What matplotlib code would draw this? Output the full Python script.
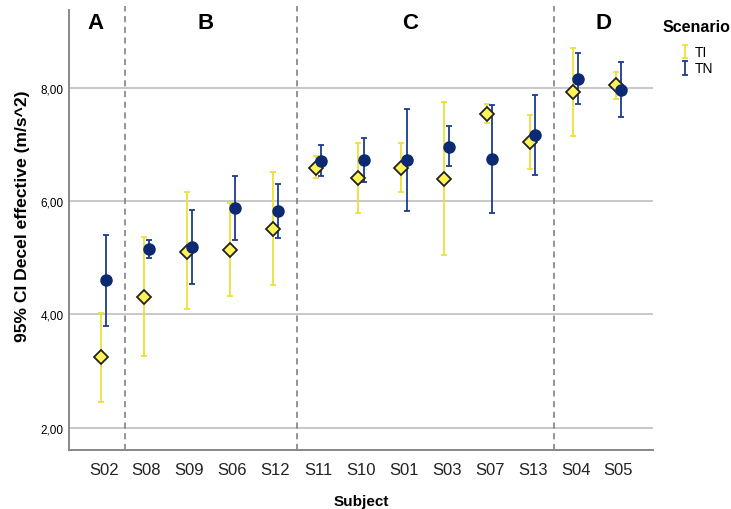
import matplotlib
matplotlib.use("Agg")
import matplotlib.pyplot as plt
import numpy as np

plt.rcParams["font.family"] = ["Liberation Sans", "DejaVu Sans"]

subjects = ["S02", "S08", "S09", "S06", "S12", "S11", "S10", "S01", "S03", "S07", "S13", "S04", "S05"]

# TI scenario: mean and 95% CI bounds
ti_mean = [3.24, 4.31, 5.10, 5.14, 5.51, 6.59, 6.40, 6.59, 6.39, 7.54, 7.05, 7.92, 8.04]
ti_low = [2.46, 3.27, 4.09, 4.33, 4.52, 6.40, 5.78, 6.16, 5.05, 7.38, 6.57, 7.14, 7.80]
ti_high = [4.02, 5.36, 6.16, 5.97, 6.51, 6.80, 7.02, 7.02, 7.74, 7.71, 7.52, 8.70, 8.28]

# TN scenario
tn_mean = [4.60, 5.15, 5.18, 5.88, 5.82, 6.71, 6.72, 6.72, 6.96, 6.74, 7.16, 8.16, 7.96]
tn_low = [3.79, 5.00, 4.54, 5.32, 5.34, 6.44, 6.34, 5.82, 6.61, 5.79, 6.46, 7.71, 7.49]
tn_high = [5.40, 5.32, 5.84, 6.44, 6.30, 6.98, 7.11, 7.62, 7.32, 7.69, 7.88, 8.62, 8.45]

# groups: last index of each group, then label and its x position
group_ends = [0, 4, 10]
group_labels = ["A", "B", "C", "D"]
group_label_x = [-0.2, 2.38, 7.14, 11.64]

yticks = [2, 4, 6, 8]

ti_bar = "#EDE03A"
ti_face = "#FFF35A"
tn_bar = "#1E3C8F"
tn_dot = "#0B2A72"

fig = plt.figure(figsize=(7.31, 5.10), dpi=100)
ax = fig.add_axes([0.0948, 0.1163, 0.7982, 0.8697])

x = np.arange(len(subjects))
dodge = 0.06

ti_m = np.array(ti_mean)
tn_m = np.array(tn_mean)
ti_err = [ti_m - np.array(ti_low), np.array(ti_high) - ti_m]
tn_err = [tn_m - np.array(tn_low), np.array(tn_high) - tn_m]

h_ti = ax.errorbar(x - dodge, ti_m, yerr=ti_err, fmt="none", ecolor=ti_bar,
                   elinewidth=1.3, capsize=2.2, capthick=1.3, zorder=3)
h_tn = ax.errorbar(x + dodge, tn_m, yerr=tn_err, fmt="none", ecolor=tn_bar,
                   elinewidth=1.3, capsize=2.2, capthick=1.3, zorder=3)
ax.plot(x - dodge, ti_m, linestyle="none", marker="D", markersize=7,
        markerfacecolor=ti_face, markeredgecolor="#222222", markeredgewidth=1.3, zorder=4)
ax.plot(x + dodge, tn_m, linestyle="none", marker="o", markersize=8,
        markerfacecolor=tn_dot, markeredgecolor=tn_dot, zorder=5)

# dashed separators between subject groups
for e in group_ends:
    ax.axvline(e + 0.5, color="#777777", linestyle=(0, (4, 3)), linewidth=1.1, zorder=2)

for lab, gx in zip(group_labels, group_label_x):
    ax.text(gx, 9.16, lab, ha="center", va="center", fontsize=16, fontweight="bold")

ax.set_xlim(-0.8, 12.8)
ax.set_ylim(1.61, 9.44)
ax.set_xticks(x)
ax.set_xticklabels(subjects, fontsize=12, color="#222222")
ax.set_yticks(yticks)
ax.set_yticklabels([f"{v:.2f}".replace(".", ",") for v in yticks], fontsize=8.5)
ax.tick_params(length=0)
ax.tick_params(axis="x", pad=9)
ax.tick_params(axis="y", pad=4)

ax.yaxis.grid(True, color="#c8c8c8", linewidth=1.4)
ax.set_axisbelow(True)
for s in ["top", "right"]:
    ax.spines[s].set_visible(False)
for s in ["left", "bottom"]:
    ax.spines[s].set_color("#888888")
    ax.spines[s].set_linewidth(1.4)
ax.spines["left"].set_bounds(1.61, 9.38)

ax.set_xlabel("Subject", fontsize=11, fontweight="bold", labelpad=12)
ax.set_ylabel("95% CI Decel effective (m/s^2)", fontsize=12.6, fontweight="bold")
ax.yaxis.set_label_coords(-0.067, 0.529)

fig.text(0.906, 0.946, "Scenario", fontsize=11.5, fontweight="bold", va="center", ha="left")
fig.legend([h_ti, h_tn], ["TI", "TN"], loc="upper left", bbox_to_anchor=(0.931, 0.909),
           frameon=False, fontsize=10, handlelength=0.7, handletextpad=0.35,
           labelspacing=0.15, borderpad=0, borderaxespad=0)

fig.savefig("out.png", dpi=100)
